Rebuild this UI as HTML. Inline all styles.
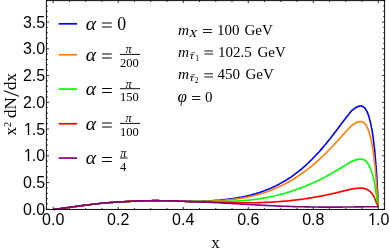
<!DOCTYPE html>
<html><head><meta charset="utf-8"><title>plot</title>
<style>
html,body{margin:0;padding:0;background:#fff;}
body{width:390px;height:252px;overflow:hidden;}
svg{display:block;will-change:transform;}
text{fill:#000;}
.s{font-family:"Liberation Sans",sans-serif;font-size:16px;}
.r{font-family:"Liberation Serif",serif;}
.ri{font-family:"Liberation Serif",serif;font-style:italic;}
</style></head><body>
<svg width="390" height="252" viewBox="0 0 390 252">
<rect width="390" height="252" fill="#fff"/>
<path d="M53.5,209.5 L55.0,209.3 L56.4,209.1 L57.8,208.9 L59.3,208.7 L60.7,208.5 L62.1,208.3 L63.6,208.1 L65.0,207.9 L66.4,207.7 L67.9,207.5 L69.3,207.3 L70.8,207.1 L72.2,206.9 L73.6,206.7 L75.1,206.5 L76.5,206.4 L77.9,206.2 L79.4,206.0 L80.8,205.8 L82.2,205.6 L83.7,205.4 L85.1,205.2 L86.6,205.0 L88.0,204.9 L89.4,204.7 L90.9,204.5 L92.3,204.3 L93.7,204.2 L95.2,204.0 L96.6,203.8 L98.0,203.7 L99.5,203.5 L100.9,203.3 L102.3,203.2 L103.8,203.1 L105.2,202.9 L106.7,202.8 L108.1,202.7 L109.5,202.6 L111.0,202.5 L112.4,202.4 L113.8,202.3 L115.3,202.2 L116.7,202.1 L118.1,202.0 L119.6,201.9 L121.0,201.8 L122.5,201.7 L123.9,201.7 L125.3,201.6 L126.8,201.5 L128.2,201.4 L129.6,201.4 L131.1,201.3 L132.5,201.2 L133.9,201.1 L135.4,201.1 L136.8,201.0 L138.2,201.0 L139.7,200.9 L141.1,200.9 L142.6,200.8 L144.0,200.8 L145.4,200.8 L146.9,200.7 L148.3,200.7 L149.7,200.7 L151.2,200.7 L152.6,200.6 L154.0,200.6 L155.5,200.6 L156.9,200.6 L158.4,200.6 L159.8,200.7 L161.2,200.7 L162.7,200.7 L164.1,200.7 L165.5,200.7 L167.0,200.8 L168.4,200.8 L169.8,200.8 L171.3,200.9 L172.7,200.9 L174.1,201.0 L175.6,201.0 L177.0,201.1 L178.5,201.1 L179.9,201.2 L181.3,201.2 L182.8,201.3 L184.2,201.3 L185.6,201.4 L187.1,201.4 L188.5,201.4 L189.9,201.4 L191.4,201.4 L192.8,201.4 L194.3,201.4 L195.7,201.4 L197.1,201.3 L198.6,201.3 L200.0,201.2 L201.4,201.2 L202.9,201.1 L204.3,201.1 L205.7,201.0 L207.2,200.9 L208.6,200.8 L210.0,200.8 L211.5,200.7 L212.9,200.6 L214.4,200.5 L215.8,200.4 L217.2,200.3 L218.7,200.2 L220.1,200.1 L221.5,199.9 L223.0,199.8 L224.4,199.6 L225.8,199.5 L227.3,199.3 L228.7,199.1 L230.2,198.9 L231.6,198.7 L233.0,198.5 L234.5,198.3 L235.9,198.1 L237.3,197.9 L238.8,197.6 L240.2,197.3 L241.6,197.1 L243.1,196.8 L244.5,196.5 L245.9,196.2 L247.4,195.9 L248.8,195.5 L250.3,195.2 L251.7,194.8 L253.1,194.4 L254.6,194.0 L256.0,193.6 L257.4,193.1 L258.9,192.7 L260.3,192.2 L261.7,191.7 L263.2,191.2 L264.6,190.7 L266.1,190.1 L267.5,189.6 L268.9,189.0 L270.4,188.4 L271.8,187.7 L273.2,187.1 L274.7,186.4 L276.1,185.7 L277.5,185.0 L279.0,184.2 L280.4,183.4 L281.8,182.6 L283.3,181.8 L284.7,181.0 L286.2,180.1 L287.6,179.2 L289.0,178.3 L290.5,177.3 L291.9,176.3 L293.3,175.3 L294.8,174.2 L296.2,173.2 L297.6,172.1 L299.1,170.9 L300.5,169.8 L302.0,168.6 L303.4,167.3 L304.8,166.1 L306.3,164.8 L307.7,163.5 L309.1,162.1 L310.6,160.7 L312.0,159.3 L313.4,157.8 L314.9,156.3 L316.3,154.8 L317.7,153.3 L319.2,151.7 L320.6,150.1 L322.1,148.4 L323.5,146.7 L324.9,145.0 L326.4,143.3 L327.8,141.5 L329.2,139.7 L330.7,137.9 L332.1,136.1 L333.5,134.2 L335.0,132.3 L336.4,130.4 L337.9,128.5 L339.3,126.6 L339.4,126.5 L339.5,126.4 L339.6,126.2 L339.7,126.1 L339.8,126.0 L339.9,125.8 L340.0,125.7 L340.1,125.6 L340.2,125.5 L340.3,125.3 L340.4,125.2 L340.5,125.1 L340.6,124.9 L340.7,124.8 L340.8,124.7 L340.9,124.5 L341.0,124.4 L341.0,124.3 L341.1,124.2 L341.2,124.0 L341.3,123.9 L341.4,123.8 L341.5,123.6 L341.6,123.5 L341.7,123.4 L341.8,123.2 L341.9,123.1 L342.0,123.0 L342.1,122.8 L342.2,122.7 L342.3,122.6 L342.4,122.5 L342.5,122.3 L342.6,122.2 L342.7,122.1 L342.8,121.9 L342.9,121.8 L343.0,121.7 L343.1,121.5 L343.2,121.4 L343.3,121.3 L343.4,121.2 L343.5,121.0 L343.6,120.9 L343.7,120.8 L343.8,120.6 L343.9,120.5 L344.0,120.4 L344.1,120.3 L344.2,120.1 L344.3,120.0 L344.4,119.9 L344.5,119.7 L344.6,119.6 L344.7,119.5 L344.8,119.4 L344.9,119.2 L345.0,119.1 L345.1,119.0 L345.2,118.8 L345.3,118.7 L345.4,118.6 L345.4,118.5 L345.5,118.3 L345.6,118.2 L345.7,118.1 L345.8,118.0 L345.9,117.8 L346.0,117.7 L346.1,117.6 L346.2,117.4 L346.3,117.3 L346.4,117.2 L346.5,117.1 L346.6,116.9 L346.7,116.8 L346.8,116.7 L346.9,116.6 L347.0,116.4 L347.1,116.3 L347.2,116.2 L347.3,116.1 L347.4,115.9 L347.5,115.8 L347.6,115.7 L347.7,115.6 L347.8,115.4 L347.9,115.3 L348.0,115.2 L348.1,115.1 L348.2,115.0 L348.3,114.8 L348.4,114.7 L348.5,114.6 L348.6,114.5 L348.7,114.3 L348.8,114.2 L348.9,114.1 L349.0,114.0 L349.1,113.9 L349.2,113.7 L349.3,113.6 L349.4,113.5 L349.5,113.4 L349.6,113.3 L349.7,113.1 L349.7,113.0 L349.8,112.9 L349.9,112.8 L350.0,112.7 L350.1,112.6 L350.2,112.4 L350.3,112.3 L350.4,112.2 L350.5,112.1 L350.6,112.0 L350.7,111.9 L350.8,111.7 L350.9,111.6 L351.0,111.5 L351.1,111.4 L351.2,111.3 L351.3,111.2 L351.4,111.1 L351.5,110.9 L351.6,110.8 L351.7,110.7 L351.8,110.6 L351.9,110.5 L352.0,110.4 L352.1,110.4 L352.2,110.3 L352.3,110.2 L352.4,110.1 L352.5,110.0 L352.6,109.9 L352.7,109.9 L352.8,109.8 L352.9,109.7 L353.0,109.6 L353.1,109.5 L353.2,109.5 L353.3,109.4 L353.4,109.3 L353.5,109.2 L353.6,109.2 L353.7,109.1 L353.8,109.0 L353.9,108.9 L354.0,108.9 L354.1,108.8 L354.1,108.7 L354.2,108.7 L354.3,108.6 L354.4,108.5 L354.5,108.4 L354.6,108.4 L354.7,108.3 L354.8,108.2 L354.9,108.2 L355.0,108.1 L355.1,108.0 L355.2,108.0 L355.3,107.9 L355.4,107.9 L355.5,107.8 L355.6,107.7 L355.7,107.7 L355.8,107.6 L355.9,107.6 L356.0,107.5 L356.1,107.4 L356.2,107.4 L356.3,107.3 L356.4,107.3 L356.5,107.2 L356.6,107.2 L356.7,107.1 L356.8,107.1 L356.9,107.0 L357.0,107.0 L357.1,106.9 L357.2,106.9 L357.3,106.8 L357.4,106.8 L357.5,106.7 L357.6,106.7 L357.7,106.7 L357.8,106.6 L357.9,106.6 L358.0,106.5 L358.1,106.5 L358.2,106.5 L358.3,106.4 L358.4,106.4 L358.5,106.4 L358.5,106.3 L358.6,106.3 L358.7,106.3 L358.8,106.3 L358.9,106.2 L359.0,106.2 L359.1,106.2 L359.2,106.2 L359.3,106.1 L359.4,106.1 L359.5,106.1 L359.6,106.1 L359.7,106.1 L359.8,106.0 L359.9,106.0 L360.0,106.0 L360.1,106.0 L360.2,106.0 L360.3,106.0 L360.4,106.0 L360.5,106.0 L360.6,106.0 L360.7,106.0 L360.8,106.0 L360.9,106.0 L361.0,106.0 L361.1,106.0 L361.1,106.0 L361.2,106.0 L361.3,106.0 L361.4,106.0 L361.5,106.0 L361.6,106.1 L361.7,106.1 L361.8,106.1 L361.8,106.1 L361.9,106.1 L362.0,106.2 L362.1,106.2 L362.2,106.2 L362.3,106.3 L362.4,106.3 L362.5,106.3 L362.6,106.4 L362.6,106.4 L362.7,106.5 L362.8,106.5 L362.9,106.5 L363.0,106.6 L363.1,106.7 L363.2,106.7 L363.3,106.8 L363.4,106.8 L363.4,106.9 L363.5,106.9 L363.6,107.0 L363.7,107.1 L363.8,107.2 L363.9,107.2 L364.0,107.3 L364.1,107.4 L364.2,107.5 L364.3,107.6 L364.3,107.6 L364.4,107.7 L364.5,107.8 L364.6,107.9 L364.7,108.0 L364.8,108.1 L364.9,108.2 L365.0,108.4 L365.1,108.5 L365.2,108.6 L365.3,108.7 L365.4,108.8 L365.4,109.0 L365.5,109.1 L365.6,109.2 L365.7,109.4 L365.8,109.5 L365.9,109.7 L366.0,109.8 L366.1,110.0 L366.2,110.1 L366.3,110.3 L366.4,110.4 L366.5,110.6 L366.6,110.8 L366.7,111.0 L366.7,111.2 L366.8,111.3 L366.9,111.5 L367.0,111.7 L367.1,111.9 L367.2,112.1 L367.3,112.4 L367.4,112.6 L367.5,112.8 L367.6,113.0 L367.7,113.2 L367.8,113.5 L367.9,113.7 L368.0,114.0 L368.1,114.2 L368.2,114.5 L368.3,114.8 L368.4,115.0 L368.5,115.3 L368.6,115.6 L368.7,115.9 L368.8,116.2 L368.9,116.5 L369.0,116.8 L369.0,117.1 L369.1,117.4 L369.2,117.8 L369.3,118.1 L369.4,118.5 L369.5,118.8 L369.6,119.2 L369.7,119.5 L369.8,119.9 L369.9,120.3 L370.0,120.7 L370.1,121.1 L370.2,121.5 L370.3,121.9 L370.4,122.3 L370.5,122.8 L370.6,123.2 L370.7,123.7 L370.8,124.1 L370.9,124.6 L371.0,125.1 L371.1,125.6 L371.2,126.1 L371.3,126.6 L371.4,127.2 L371.5,127.7 L371.7,128.2 L371.8,128.8 L371.9,129.4 L372.0,130.0 L372.1,130.6 L372.2,131.2 L372.3,131.8 L372.4,132.5 L372.5,133.1 L372.6,133.8 L372.7,134.5 L372.8,135.2 L372.9,135.9 L373.0,136.6 L373.1,137.3 L373.2,138.1 L373.3,138.9 L373.4,139.7 L373.5,140.5 L373.6,141.3 L373.7,142.2 L373.8,143.0 L373.9,143.9 L374.0,144.8 L374.1,145.8 L374.2,146.7 L374.4,147.7 L374.5,148.7 L374.6,149.7 L374.7,150.7 L374.8,151.8 L374.9,152.9 L375.0,154.0 L375.1,155.1 L375.2,156.3 L375.3,157.5 L375.4,158.7 L375.5,160.0 L375.6,161.2 L375.7,162.6 L375.8,163.9 L375.9,165.3 L376.0,166.7 L376.2,168.1 L376.3,169.6 L376.4,171.2 L376.5,172.7 L376.6,174.3 L376.7,176.0 L376.8,177.6 L376.9,179.4 L377.0,181.1 L377.1,183.0 L377.2,184.8 L377.3,186.8 L377.4,188.7 L377.5,190.8 L377.7,192.9 L377.8,195.0 L377.9,197.2 L378.0,199.5 L378.1,201.8 L378.2,204.2 L378.3,206.7" fill="none" stroke="#0000ff" stroke-width="1.62" stroke-linejoin="round"/>
<path d="M53.5,209.5 L55.0,209.3 L56.4,209.1 L57.8,208.9 L59.3,208.7 L60.7,208.5 L62.1,208.3 L63.6,208.1 L65.0,207.9 L66.4,207.7 L67.9,207.5 L69.3,207.3 L70.8,207.1 L72.2,206.9 L73.6,206.7 L75.1,206.5 L76.5,206.4 L77.9,206.2 L79.4,206.0 L80.8,205.8 L82.2,205.6 L83.7,205.4 L85.1,205.2 L86.6,205.0 L88.0,204.9 L89.4,204.7 L90.9,204.5 L92.3,204.3 L93.7,204.2 L95.2,204.0 L96.6,203.8 L98.0,203.7 L99.5,203.5 L100.9,203.3 L102.3,203.2 L103.8,203.1 L105.2,202.9 L106.7,202.8 L108.1,202.7 L109.5,202.6 L111.0,202.5 L112.4,202.4 L113.8,202.3 L115.3,202.2 L116.7,202.1 L118.1,202.0 L119.6,201.9 L121.0,201.8 L122.5,201.7 L123.9,201.7 L125.3,201.6 L126.8,201.5 L128.2,201.4 L129.6,201.4 L131.1,201.3 L132.5,201.2 L133.9,201.1 L135.4,201.1 L136.8,201.0 L138.2,201.0 L139.7,200.9 L141.1,200.9 L142.6,200.8 L144.0,200.8 L145.4,200.8 L146.9,200.7 L148.3,200.7 L149.7,200.7 L151.2,200.7 L152.6,200.6 L154.0,200.6 L155.5,200.6 L156.9,200.6 L158.4,200.6 L159.8,200.7 L161.2,200.7 L162.7,200.7 L164.1,200.7 L165.5,200.7 L167.0,200.8 L168.4,200.8 L169.8,200.8 L171.3,200.9 L172.7,200.9 L174.1,201.0 L175.6,201.0 L177.0,201.1 L178.5,201.1 L179.9,201.2 L181.3,201.2 L182.8,201.3 L184.2,201.3 L185.6,201.4 L187.1,201.4 L188.5,201.5 L189.9,201.5 L191.4,201.5 L192.8,201.4 L194.3,201.4 L195.7,201.4 L197.1,201.4 L198.6,201.4 L200.0,201.3 L201.4,201.3 L202.9,201.3 L204.3,201.2 L205.7,201.2 L207.2,201.1 L208.6,201.1 L210.0,201.0 L211.5,201.0 L212.9,200.9 L214.4,200.8 L215.8,200.7 L217.2,200.7 L218.7,200.6 L220.1,200.5 L221.5,200.4 L223.0,200.3 L224.4,200.2 L225.8,200.0 L227.3,199.9 L228.7,199.8 L230.2,199.6 L231.6,199.5 L233.0,199.3 L234.5,199.1 L235.9,199.0 L237.3,198.8 L238.8,198.6 L240.2,198.4 L241.6,198.1 L243.1,197.9 L244.5,197.6 L245.9,197.4 L247.4,197.1 L248.8,196.8 L250.3,196.5 L251.7,196.2 L253.1,195.8 L254.6,195.5 L256.0,195.1 L257.4,194.7 L258.9,194.3 L260.3,193.9 L261.7,193.4 L263.2,193.0 L264.6,192.5 L266.1,192.0 L267.5,191.5 L268.9,191.0 L270.4,190.5 L271.8,189.9 L273.2,189.3 L274.7,188.7 L276.1,188.1 L277.5,187.5 L279.0,186.8 L280.4,186.1 L281.8,185.5 L283.3,184.7 L284.7,184.0 L286.2,183.2 L287.6,182.5 L289.0,181.7 L290.5,180.8 L291.9,180.0 L293.3,179.1 L294.8,178.2 L296.2,177.3 L297.6,176.4 L299.1,175.4 L300.5,174.5 L302.0,173.5 L303.4,172.4 L304.8,171.4 L306.3,170.3 L307.7,169.2 L309.1,168.1 L310.6,166.9 L312.0,165.8 L313.4,164.6 L314.9,163.3 L316.3,162.1 L317.7,160.8 L319.2,159.5 L320.6,158.2 L322.1,156.8 L323.5,155.5 L324.9,154.1 L326.4,152.6 L327.8,151.2 L329.2,149.7 L330.7,148.2 L332.1,146.7 L333.5,145.2 L335.0,143.6 L336.4,142.0 L337.9,140.5 L339.3,138.9 L339.4,138.8 L339.5,138.7 L339.6,138.6 L339.7,138.4 L339.8,138.3 L339.9,138.2 L340.0,138.1 L340.1,138.0 L340.2,137.9 L340.3,137.8 L340.4,137.7 L340.5,137.6 L340.6,137.5 L340.7,137.4 L340.8,137.3 L340.9,137.1 L341.0,137.0 L341.0,136.9 L341.1,136.8 L341.2,136.7 L341.3,136.6 L341.4,136.5 L341.5,136.4 L341.6,136.3 L341.7,136.2 L341.8,136.1 L341.9,135.9 L342.0,135.8 L342.1,135.7 L342.2,135.6 L342.3,135.5 L342.4,135.4 L342.5,135.3 L342.6,135.2 L342.7,135.1 L342.8,135.0 L342.9,134.9 L343.0,134.8 L343.1,134.6 L343.2,134.5 L343.3,134.4 L343.4,134.3 L343.5,134.2 L343.6,134.1 L343.7,134.0 L343.8,133.9 L343.9,133.8 L344.0,133.7 L344.1,133.6 L344.2,133.5 L344.3,133.3 L344.4,133.2 L344.5,133.1 L344.6,133.0 L344.7,132.9 L344.8,132.8 L344.9,132.7 L345.0,132.6 L345.1,132.5 L345.2,132.4 L345.3,132.3 L345.4,132.2 L345.4,132.1 L345.5,132.0 L345.6,131.8 L345.7,131.7 L345.8,131.6 L345.9,131.5 L346.0,131.4 L346.1,131.3 L346.2,131.2 L346.3,131.1 L346.4,131.0 L346.5,130.9 L346.6,130.8 L346.7,130.7 L346.8,130.6 L346.9,130.5 L347.0,130.4 L347.1,130.3 L347.2,130.2 L347.3,130.1 L347.4,129.9 L347.5,129.8 L347.6,129.7 L347.7,129.6 L347.8,129.5 L347.9,129.4 L348.0,129.3 L348.1,129.2 L348.2,129.1 L348.3,129.0 L348.4,128.9 L348.5,128.8 L348.6,128.7 L348.7,128.6 L348.8,128.5 L348.9,128.4 L349.0,128.3 L349.1,128.2 L349.2,128.1 L349.3,128.0 L349.4,127.9 L349.5,127.8 L349.6,127.7 L349.7,127.6 L349.7,127.5 L349.8,127.4 L349.9,127.3 L350.0,127.2 L350.1,127.1 L350.2,127.0 L350.3,126.9 L350.4,126.8 L350.5,126.7 L350.6,126.6 L350.7,126.5 L350.8,126.4 L350.9,126.3 L351.0,126.2 L351.1,126.1 L351.2,126.0 L351.3,125.9 L351.4,125.8 L351.5,125.7 L351.6,125.6 L351.7,125.5 L351.8,125.4 L351.9,125.4 L352.0,125.3 L352.1,125.2 L352.2,125.2 L352.3,125.1 L352.4,125.0 L352.5,125.0 L352.6,124.9 L352.7,124.8 L352.8,124.8 L352.9,124.7 L353.0,124.6 L353.1,124.6 L353.2,124.5 L353.3,124.4 L353.4,124.4 L353.5,124.3 L353.6,124.2 L353.7,124.2 L353.8,124.1 L353.9,124.0 L354.0,124.0 L354.1,123.9 L354.1,123.9 L354.2,123.8 L354.3,123.7 L354.4,123.7 L354.5,123.6 L354.6,123.6 L354.7,123.5 L354.8,123.4 L354.9,123.4 L355.0,123.3 L355.1,123.3 L355.2,123.2 L355.3,123.2 L355.4,123.1 L355.5,123.1 L355.6,123.0 L355.7,123.0 L355.8,122.9 L355.9,122.9 L356.0,122.8 L356.1,122.8 L356.2,122.7 L356.3,122.7 L356.4,122.6 L356.5,122.6 L356.6,122.5 L356.7,122.5 L356.8,122.5 L356.9,122.4 L357.0,122.4 L357.1,122.3 L357.2,122.3 L357.3,122.2 L357.4,122.2 L357.5,122.2 L357.6,122.1 L357.7,122.1 L357.8,122.1 L357.9,122.0 L358.0,122.0 L358.1,122.0 L358.2,121.9 L358.3,121.9 L358.4,121.9 L358.5,121.9 L358.5,121.8 L358.6,121.8 L358.7,121.8 L358.8,121.8 L358.9,121.7 L359.0,121.7 L359.1,121.7 L359.2,121.7 L359.3,121.6 L359.4,121.6 L359.5,121.6 L359.6,121.6 L359.7,121.6 L359.8,121.6 L359.9,121.6 L360.0,121.6 L360.1,121.5 L360.2,121.5 L360.3,121.5 L360.4,121.5 L360.5,121.5 L360.6,121.5 L360.7,121.5 L360.8,121.5 L360.9,121.5 L361.0,121.5 L361.1,121.5 L361.1,121.5 L361.2,121.5 L361.3,121.6 L361.4,121.6 L361.5,121.6 L361.6,121.6 L361.7,121.6 L361.7,121.6 L361.8,121.6 L361.9,121.7 L362.0,121.7 L362.1,121.7 L362.2,121.7 L362.3,121.8 L362.3,121.8 L362.4,121.8 L362.5,121.8 L362.6,121.9 L362.7,121.9 L362.8,122.0 L362.9,122.0 L362.9,122.0 L363.0,122.1 L363.1,122.1 L363.2,122.2 L363.3,122.2 L363.4,122.3 L363.4,122.3 L363.5,122.4 L363.6,122.4 L363.7,122.5 L363.8,122.6 L363.9,122.6 L364.0,122.7 L364.0,122.8 L364.1,122.8 L364.2,122.9 L364.3,123.0 L364.4,123.1 L364.5,123.2 L364.5,123.2 L364.6,123.3 L364.7,123.4 L364.8,123.5 L364.9,123.6 L365.0,123.7 L365.1,123.8 L365.1,123.9 L365.2,124.0 L365.3,124.1 L365.4,124.3 L365.5,124.4 L365.6,124.5 L365.7,124.6 L365.7,124.7 L365.8,124.9 L365.9,125.0 L366.0,125.1 L366.1,125.3 L366.2,125.4 L366.3,125.6 L366.3,125.7 L366.4,125.9 L366.5,126.0 L366.6,126.2 L366.7,126.4 L366.8,126.5 L366.9,126.7 L367.0,126.9 L367.1,127.1 L367.1,127.3 L367.2,127.5 L367.3,127.7 L367.4,127.9 L367.5,128.1 L367.6,128.3 L367.7,128.5 L367.8,128.7 L367.9,128.9 L368.0,129.2 L368.1,129.4 L368.1,129.6 L368.2,129.9 L368.3,130.1 L368.4,130.4 L368.5,130.7 L368.6,130.9 L368.7,131.2 L368.8,131.5 L368.9,131.8 L369.0,132.1 L369.1,132.4 L369.2,132.7 L369.3,133.0 L369.4,133.3 L369.5,133.6 L369.6,133.9 L369.7,134.3 L369.8,134.6 L369.9,135.0 L370.0,135.3 L370.1,135.7 L370.2,136.1 L370.3,136.5 L370.4,136.9 L370.5,137.3 L370.6,137.7 L370.7,138.1 L370.8,138.5 L370.9,139.0 L371.0,139.4 L371.1,139.9 L371.2,140.3 L371.3,140.8 L371.4,141.3 L371.5,141.8 L371.6,142.3 L371.7,142.8 L371.8,143.4 L371.9,143.9 L372.0,144.4 L372.1,145.0 L372.2,145.6 L372.3,146.2 L372.4,146.8 L372.5,147.4 L372.6,148.0 L372.7,148.7 L372.9,149.3 L373.0,150.0 L373.1,150.7 L373.2,151.4 L373.3,152.1 L373.4,152.8 L373.5,153.6 L373.6,154.4 L373.7,155.1 L373.8,155.9 L373.9,156.8 L374.0,157.6 L374.1,158.5 L374.2,159.3 L374.3,160.2 L374.4,161.2 L374.5,162.1 L374.6,163.1 L374.7,164.1 L374.9,165.1 L375.0,166.1 L375.1,167.2 L375.2,168.2 L375.3,169.4 L375.4,170.5 L375.5,171.7 L375.6,172.9 L375.7,174.1 L375.8,175.3 L375.9,176.6 L376.0,177.9 L376.1,179.3 L376.2,180.7 L376.3,182.1 L376.5,183.6 L376.6,185.1 L376.7,186.6 L376.8,188.2 L376.9,189.8 L377.1,191.5 L377.2,193.2 L377.4,195.0 L377.6,196.8 L377.7,198.7 L377.9,200.6 L378.1,202.6 L378.2,204.6 L378.3,206.7" fill="none" stroke="#ff7f00" stroke-width="1.62" stroke-linejoin="round"/>
<path d="M53.5,209.5 L55.0,209.3 L56.4,209.1 L57.8,208.9 L59.3,208.7 L60.7,208.5 L62.1,208.3 L63.6,208.1 L65.0,207.9 L66.4,207.7 L67.9,207.5 L69.3,207.3 L70.8,207.1 L72.2,206.9 L73.6,206.7 L75.1,206.5 L76.5,206.4 L77.9,206.2 L79.4,206.0 L80.8,205.8 L82.2,205.6 L83.7,205.4 L85.1,205.2 L86.6,205.0 L88.0,204.9 L89.4,204.7 L90.9,204.5 L92.3,204.3 L93.7,204.2 L95.2,204.0 L96.6,203.8 L98.0,203.7 L99.5,203.5 L100.9,203.3 L102.3,203.2 L103.8,203.1 L105.2,202.9 L106.7,202.8 L108.1,202.7 L109.5,202.6 L111.0,202.5 L112.4,202.4 L113.8,202.3 L115.3,202.2 L116.7,202.1 L118.1,202.0 L119.6,201.9 L121.0,201.8 L122.5,201.7 L123.9,201.7 L125.3,201.6 L126.8,201.5 L128.2,201.4 L129.6,201.4 L131.1,201.3 L132.5,201.2 L133.9,201.1 L135.4,201.1 L136.8,201.0 L138.2,201.0 L139.7,200.9 L141.1,200.9 L142.6,200.8 L144.0,200.8 L145.4,200.8 L146.9,200.7 L148.3,200.7 L149.7,200.7 L151.2,200.7 L152.6,200.6 L154.0,200.6 L155.5,200.6 L156.9,200.6 L158.4,200.6 L159.8,200.7 L161.2,200.7 L162.7,200.7 L164.1,200.7 L165.5,200.7 L167.0,200.8 L168.4,200.8 L169.8,200.8 L171.3,200.9 L172.7,200.9 L174.1,201.0 L175.6,201.0 L177.0,201.1 L178.5,201.1 L179.9,201.2 L181.3,201.2 L182.8,201.3 L184.2,201.3 L185.6,201.4 L187.1,201.5 L188.5,201.5 L189.9,201.5 L191.4,201.5 L192.8,201.6 L194.3,201.6 L195.7,201.6 L197.1,201.6 L198.6,201.6 L200.0,201.6 L201.4,201.6 L202.9,201.6 L204.3,201.6 L205.7,201.6 L207.2,201.6 L208.6,201.6 L210.0,201.6 L211.5,201.6 L212.9,201.6 L214.4,201.6 L215.8,201.6 L217.2,201.6 L218.7,201.6 L220.1,201.5 L221.5,201.5 L223.0,201.5 L224.4,201.5 L225.8,201.4 L227.3,201.4 L228.7,201.4 L230.2,201.3 L231.6,201.3 L233.0,201.2 L234.5,201.1 L235.9,201.1 L237.3,201.0 L238.8,200.9 L240.2,200.8 L241.6,200.7 L243.1,200.6 L244.5,200.5 L245.9,200.4 L247.4,200.3 L248.8,200.1 L250.3,200.0 L251.7,199.8 L253.1,199.6 L254.6,199.4 L256.0,199.3 L257.4,199.1 L258.9,198.8 L260.3,198.6 L261.7,198.4 L263.2,198.1 L264.6,197.9 L266.1,197.6 L267.5,197.4 L268.9,197.1 L270.4,196.8 L271.8,196.5 L273.2,196.2 L274.7,195.8 L276.1,195.5 L277.5,195.2 L279.0,194.8 L280.4,194.4 L281.8,194.1 L283.3,193.7 L284.7,193.3 L286.2,192.8 L287.6,192.4 L289.0,192.0 L290.5,191.5 L291.9,191.1 L293.3,190.6 L294.8,190.1 L296.2,189.6 L297.6,189.1 L299.1,188.6 L300.5,188.0 L302.0,187.5 L303.4,186.9 L304.8,186.4 L306.3,185.8 L307.7,185.2 L309.1,184.6 L310.6,184.0 L312.0,183.3 L313.4,182.7 L314.9,182.0 L316.3,181.4 L317.7,180.7 L319.2,180.0 L320.6,179.3 L322.1,178.6 L323.5,177.8 L324.9,177.1 L326.4,176.3 L327.8,175.5 L329.2,174.7 L330.7,173.9 L332.1,173.1 L333.5,172.2 L335.0,171.4 L336.4,170.5 L337.9,169.7 L339.3,168.8 L339.4,168.8 L339.5,168.7 L339.6,168.6 L339.7,168.6 L339.8,168.5 L339.9,168.5 L340.0,168.4 L340.1,168.3 L340.2,168.3 L340.3,168.2 L340.4,168.2 L340.5,168.1 L340.6,168.0 L340.7,168.0 L340.8,167.9 L340.9,167.9 L341.0,167.8 L341.0,167.7 L341.1,167.7 L341.2,167.6 L341.3,167.6 L341.4,167.5 L341.5,167.4 L341.6,167.4 L341.7,167.3 L341.8,167.3 L341.9,167.2 L342.0,167.1 L342.1,167.1 L342.2,167.0 L342.3,167.0 L342.4,166.9 L342.5,166.8 L342.6,166.8 L342.7,166.7 L342.8,166.7 L342.9,166.6 L343.0,166.5 L343.1,166.5 L343.2,166.4 L343.3,166.4 L343.4,166.3 L343.5,166.2 L343.6,166.2 L343.7,166.1 L343.8,166.1 L343.9,166.0 L344.0,165.9 L344.1,165.9 L344.2,165.8 L344.3,165.8 L344.4,165.7 L344.5,165.6 L344.6,165.6 L344.7,165.5 L344.8,165.5 L344.9,165.4 L345.0,165.3 L345.1,165.3 L345.2,165.2 L345.3,165.2 L345.4,165.1 L345.4,165.0 L345.5,165.0 L345.6,164.9 L345.7,164.9 L345.8,164.8 L345.9,164.7 L346.0,164.7 L346.1,164.6 L346.2,164.6 L346.3,164.5 L346.4,164.5 L346.5,164.4 L346.6,164.3 L346.7,164.3 L346.8,164.2 L346.9,164.2 L347.0,164.1 L347.1,164.0 L347.2,164.0 L347.3,163.9 L347.4,163.9 L347.5,163.8 L347.6,163.8 L347.7,163.7 L347.8,163.6 L347.9,163.6 L348.0,163.5 L348.1,163.5 L348.2,163.4 L348.3,163.3 L348.4,163.3 L348.5,163.2 L348.6,163.2 L348.7,163.1 L348.8,163.1 L348.9,163.0 L349.0,162.9 L349.1,162.9 L349.2,162.8 L349.3,162.8 L349.4,162.7 L349.5,162.7 L349.6,162.6 L349.7,162.5 L349.7,162.5 L349.8,162.4 L349.9,162.4 L350.0,162.3 L350.1,162.3 L350.2,162.2 L350.3,162.2 L350.4,162.1 L350.5,162.0 L350.6,162.0 L350.7,161.9 L350.8,161.9 L350.9,161.8 L351.0,161.8 L351.1,161.7 L351.2,161.7 L351.3,161.6 L351.4,161.6 L351.5,161.5 L351.6,161.5 L351.7,161.4 L351.8,161.3 L351.9,161.3 L352.0,161.3 L352.1,161.2 L352.2,161.2 L352.3,161.1 L352.4,161.1 L352.5,161.1 L352.6,161.0 L352.7,161.0 L352.8,161.0 L352.9,160.9 L353.0,160.9 L353.1,160.8 L353.2,160.8 L353.3,160.8 L353.4,160.7 L353.5,160.7 L353.6,160.7 L353.7,160.6 L353.8,160.6 L353.9,160.5 L354.0,160.5 L354.1,160.5 L354.1,160.4 L354.2,160.4 L354.3,160.4 L354.4,160.3 L354.5,160.3 L354.6,160.3 L354.7,160.2 L354.8,160.2 L354.9,160.2 L355.0,160.1 L355.1,160.1 L355.2,160.1 L355.3,160.1 L355.4,160.0 L355.5,160.0 L355.6,160.0 L355.7,159.9 L355.8,159.9 L355.9,159.9 L356.0,159.9 L356.1,159.8 L356.2,159.8 L356.3,159.8 L356.4,159.7 L356.5,159.7 L356.6,159.7 L356.7,159.7 L356.8,159.6 L356.9,159.6 L357.0,159.6 L357.1,159.6 L357.2,159.6 L357.3,159.5 L357.4,159.5 L357.5,159.5 L357.6,159.5 L357.7,159.4 L357.8,159.4 L357.9,159.4 L358.0,159.4 L358.1,159.4 L358.2,159.4 L358.3,159.3 L358.4,159.3 L358.5,159.3 L358.5,159.3 L358.6,159.3 L358.7,159.3 L358.8,159.2 L358.9,159.2 L359.0,159.2 L359.1,159.2 L359.2,159.2 L359.3,159.2 L359.4,159.2 L359.5,159.2 L359.6,159.2 L359.7,159.1 L359.8,159.1 L359.9,159.1 L360.0,159.1 L360.1,159.1 L360.2,159.1 L360.3,159.1 L360.4,159.1 L360.5,159.1 L360.6,159.1 L360.7,159.1 L360.8,159.1 L360.9,159.1 L361.0,159.1 L361.1,159.1 L361.1,159.1 L361.2,159.1 L361.3,159.1 L361.4,159.1 L361.5,159.1 L361.6,159.1 L361.7,159.1 L361.7,159.2 L361.8,159.2 L361.9,159.2 L362.0,159.2 L362.1,159.2 L362.2,159.2 L362.2,159.2 L362.3,159.2 L362.4,159.3 L362.5,159.3 L362.6,159.3 L362.7,159.3 L362.7,159.3 L362.8,159.4 L362.9,159.4 L363.0,159.4 L363.1,159.4 L363.1,159.5 L363.2,159.5 L363.3,159.5 L363.4,159.5 L363.5,159.6 L363.6,159.6 L363.6,159.6 L363.7,159.7 L363.8,159.7 L363.9,159.7 L364.0,159.8 L364.0,159.8 L364.1,159.9 L364.2,159.9 L364.3,160.0 L364.4,160.0 L364.4,160.1 L364.5,160.1 L364.6,160.1 L364.7,160.2 L364.8,160.3 L364.8,160.3 L364.9,160.4 L365.0,160.4 L365.1,160.5 L365.2,160.5 L365.2,160.6 L365.3,160.7 L365.4,160.7 L365.5,160.8 L365.6,160.9 L365.6,161.0 L365.7,161.0 L365.8,161.1 L365.9,161.2 L366.0,161.3 L366.1,161.3 L366.1,161.4 L366.2,161.5 L366.3,161.6 L366.4,161.7 L366.5,161.8 L366.6,161.9 L366.6,162.0 L366.7,162.1 L366.8,162.2 L366.9,162.3 L367.0,162.4 L367.1,162.5 L367.2,162.6 L367.3,162.7 L367.3,162.8 L367.4,163.0 L367.5,163.1 L367.6,163.2 L367.7,163.3 L367.8,163.5 L367.9,163.6 L368.0,163.7 L368.1,163.9 L368.1,164.0 L368.2,164.2 L368.3,164.3 L368.4,164.5 L368.5,164.6 L368.6,164.8 L368.7,165.0 L368.8,165.1 L368.9,165.3 L369.0,165.5 L369.1,165.6 L369.2,165.8 L369.3,166.0 L369.4,166.2 L369.5,166.4 L369.6,166.6 L369.7,166.8 L369.8,167.0 L369.9,167.2 L370.0,167.4 L370.1,167.6 L370.2,167.9 L370.3,168.1 L370.4,168.3 L370.5,168.6 L370.6,168.8 L370.7,169.1 L370.8,169.3 L370.9,169.6 L371.0,169.8 L371.1,170.1 L371.2,170.4 L371.3,170.7 L371.4,171.0 L371.5,171.3 L371.6,171.6 L371.7,171.9 L371.8,172.2 L371.9,172.5 L372.0,172.8 L372.1,173.2 L372.2,173.5 L372.3,173.9 L372.4,174.2 L372.6,174.6 L372.7,175.0 L372.8,175.4 L372.9,175.8 L373.0,176.2 L373.1,176.6 L373.2,177.0 L373.3,177.4 L373.4,177.9 L373.5,178.3 L373.6,178.8 L373.7,179.2 L373.8,179.7 L373.9,180.2 L374.0,180.7 L374.1,181.2 L374.2,181.7 L374.3,182.3 L374.4,182.8 L374.6,183.4 L374.7,184.0 L374.8,184.6 L374.9,185.2 L375.0,185.8 L375.1,186.4 L375.2,187.1 L375.3,187.8 L375.4,188.4 L375.5,189.1 L375.6,189.9 L375.7,190.6 L375.8,191.4 L375.9,192.1 L376.0,192.9 L376.2,193.8 L376.3,194.6 L376.4,195.5 L376.5,196.3 L376.7,197.3 L376.8,198.2 L377.0,199.2 L377.3,200.1 L377.5,201.2 L377.7,202.2 L377.9,203.3 L378.0,204.4 L378.2,205.5 L378.3,206.7" fill="none" stroke="#00ff00" stroke-width="1.62" stroke-linejoin="round"/>
<path d="M53.5,209.5 L55.0,209.3 L56.4,209.1 L57.8,208.9 L59.3,208.7 L60.7,208.5 L62.1,208.3 L63.6,208.1 L65.0,207.9 L66.4,207.7 L67.9,207.5 L69.3,207.3 L70.8,207.1 L72.2,206.9 L73.6,206.7 L75.1,206.5 L76.5,206.4 L77.9,206.2 L79.4,206.0 L80.8,205.8 L82.2,205.6 L83.7,205.4 L85.1,205.2 L86.6,205.0 L88.0,204.9 L89.4,204.7 L90.9,204.5 L92.3,204.3 L93.7,204.2 L95.2,204.0 L96.6,203.8 L98.0,203.7 L99.5,203.5 L100.9,203.3 L102.3,203.2 L103.8,203.1 L105.2,202.9 L106.7,202.8 L108.1,202.7 L109.5,202.6 L111.0,202.5 L112.4,202.4 L113.8,202.3 L115.3,202.2 L116.7,202.1 L118.1,202.0 L119.6,201.9 L121.0,201.8 L122.5,201.7 L123.9,201.7 L125.3,201.6 L126.8,201.5 L128.2,201.4 L129.6,201.4 L131.1,201.3 L132.5,201.2 L133.9,201.1 L135.4,201.1 L136.8,201.0 L138.2,201.0 L139.7,200.9 L141.1,200.9 L142.6,200.8 L144.0,200.8 L145.4,200.8 L146.9,200.7 L148.3,200.7 L149.7,200.7 L151.2,200.7 L152.6,200.6 L154.0,200.6 L155.5,200.6 L156.9,200.6 L158.4,200.6 L159.8,200.7 L161.2,200.7 L162.7,200.7 L164.1,200.7 L165.5,200.7 L167.0,200.8 L168.4,200.8 L169.8,200.8 L171.3,200.9 L172.7,200.9 L174.1,201.0 L175.6,201.0 L177.0,201.1 L178.5,201.1 L179.9,201.2 L181.3,201.2 L182.8,201.3 L184.2,201.3 L185.6,201.4 L187.1,201.5 L188.5,201.5 L189.9,201.6 L191.4,201.6 L192.8,201.6 L194.3,201.7 L195.7,201.7 L197.1,201.8 L198.6,201.8 L200.0,201.8 L201.4,201.9 L202.9,201.9 L204.3,201.9 L205.7,202.0 L207.2,202.0 L208.6,202.0 L210.0,202.1 L211.5,202.1 L212.9,202.2 L214.4,202.2 L215.8,202.2 L217.2,202.3 L218.7,202.3 L220.1,202.4 L221.5,202.4 L223.0,202.4 L224.4,202.5 L225.8,202.5 L227.3,202.5 L228.7,202.6 L230.2,202.6 L231.6,202.6 L233.0,202.6 L234.5,202.7 L235.9,202.7 L237.3,202.7 L238.8,202.7 L240.2,202.7 L241.6,202.8 L243.1,202.8 L244.5,202.8 L245.9,202.8 L247.4,202.8 L248.8,202.8 L250.3,202.8 L251.7,202.8 L253.1,202.7 L254.6,202.7 L256.0,202.7 L257.4,202.6 L258.9,202.6 L260.3,202.6 L261.7,202.5 L263.2,202.5 L264.6,202.4 L266.1,202.4 L267.5,202.3 L268.9,202.2 L270.4,202.2 L271.8,202.1 L273.2,202.0 L274.7,201.9 L276.1,201.8 L277.5,201.7 L279.0,201.6 L280.4,201.5 L281.8,201.4 L283.3,201.3 L284.7,201.1 L286.2,201.0 L287.6,200.9 L289.0,200.7 L290.5,200.6 L291.9,200.4 L293.3,200.3 L294.8,200.1 L296.2,199.9 L297.6,199.8 L299.1,199.6 L300.5,199.4 L302.0,199.2 L303.4,199.0 L304.8,198.8 L306.3,198.6 L307.7,198.4 L309.1,198.1 L310.6,197.9 L312.0,197.7 L313.4,197.4 L314.9,197.2 L316.3,196.9 L317.7,196.7 L319.2,196.4 L320.6,196.1 L322.1,195.9 L323.5,195.6 L324.9,195.3 L326.4,195.0 L327.8,194.7 L329.2,194.4 L330.7,194.0 L332.1,193.7 L333.5,193.4 L335.0,193.1 L336.4,192.7 L337.9,192.4 L339.3,192.0 L339.4,192.0 L339.5,192.0 L339.6,192.0 L339.7,191.9 L339.8,191.9 L339.9,191.9 L340.0,191.9 L340.1,191.8 L340.2,191.8 L340.3,191.8 L340.4,191.8 L340.5,191.8 L340.6,191.7 L340.7,191.7 L340.8,191.7 L340.9,191.7 L341.0,191.6 L341.0,191.6 L341.1,191.6 L341.2,191.6 L341.3,191.5 L341.4,191.5 L341.5,191.5 L341.6,191.5 L341.7,191.4 L341.8,191.4 L341.9,191.4 L342.0,191.4 L342.1,191.3 L342.2,191.3 L342.3,191.3 L342.4,191.3 L342.5,191.3 L342.6,191.2 L342.7,191.2 L342.8,191.2 L342.9,191.2 L343.0,191.1 L343.1,191.1 L343.2,191.1 L343.3,191.1 L343.4,191.0 L343.5,191.0 L343.6,191.0 L343.7,191.0 L343.8,190.9 L343.9,190.9 L344.0,190.9 L344.1,190.9 L344.2,190.8 L344.3,190.8 L344.4,190.8 L344.5,190.8 L344.6,190.8 L344.7,190.7 L344.8,190.7 L344.9,190.7 L345.0,190.7 L345.1,190.6 L345.2,190.6 L345.3,190.6 L345.4,190.6 L345.4,190.5 L345.5,190.5 L345.6,190.5 L345.7,190.5 L345.8,190.4 L345.9,190.4 L346.0,190.4 L346.1,190.4 L346.2,190.3 L346.3,190.3 L346.4,190.3 L346.5,190.3 L346.6,190.3 L346.7,190.2 L346.8,190.2 L346.9,190.2 L347.0,190.2 L347.1,190.1 L347.2,190.1 L347.3,190.1 L347.4,190.1 L347.5,190.0 L347.6,190.0 L347.7,190.0 L347.8,190.0 L347.9,189.9 L348.0,189.9 L348.1,189.9 L348.2,189.9 L348.3,189.9 L348.4,189.8 L348.5,189.8 L348.6,189.8 L348.7,189.8 L348.8,189.7 L348.9,189.7 L349.0,189.7 L349.1,189.7 L349.2,189.6 L349.3,189.6 L349.4,189.6 L349.5,189.6 L349.6,189.6 L349.7,189.5 L349.7,189.5 L349.8,189.5 L349.9,189.5 L350.0,189.4 L350.1,189.4 L350.2,189.4 L350.3,189.4 L350.4,189.4 L350.5,189.3 L350.6,189.3 L350.7,189.3 L350.8,189.3 L350.9,189.2 L351.0,189.2 L351.1,189.2 L351.2,189.2 L351.3,189.2 L351.4,189.1 L351.5,189.1 L351.6,189.1 L351.7,189.1 L351.8,189.1 L351.9,189.0 L352.0,189.0 L352.1,189.0 L352.2,189.0 L352.3,189.0 L352.4,189.0 L352.5,188.9 L352.6,188.9 L352.7,188.9 L352.8,188.9 L352.9,188.9 L353.0,188.9 L353.1,188.8 L353.2,188.8 L353.3,188.8 L353.4,188.8 L353.5,188.8 L353.6,188.8 L353.7,188.8 L353.8,188.7 L353.9,188.7 L354.0,188.7 L354.1,188.7 L354.1,188.7 L354.2,188.7 L354.3,188.7 L354.4,188.6 L354.5,188.6 L354.6,188.6 L354.7,188.6 L354.8,188.6 L354.9,188.6 L355.0,188.6 L355.1,188.5 L355.2,188.5 L355.3,188.5 L355.4,188.5 L355.5,188.5 L355.6,188.5 L355.7,188.5 L355.8,188.5 L355.9,188.5 L356.0,188.4 L356.1,188.4 L356.2,188.4 L356.3,188.4 L356.4,188.4 L356.5,188.4 L356.6,188.4 L356.7,188.4 L356.8,188.4 L356.9,188.3 L357.0,188.3 L357.1,188.3 L357.2,188.3 L357.3,188.3 L357.4,188.3 L357.5,188.3 L357.6,188.3 L357.7,188.3 L357.8,188.3 L357.9,188.3 L358.0,188.2 L358.1,188.2 L358.2,188.2 L358.3,188.2 L358.4,188.2 L358.5,188.2 L358.5,188.2 L358.6,188.2 L358.7,188.2 L358.8,188.2 L358.9,188.2 L359.0,188.2 L359.1,188.2 L359.2,188.2 L359.3,188.2 L359.4,188.2 L359.5,188.1 L359.6,188.1 L359.7,188.1 L359.8,188.1 L359.9,188.1 L360.0,188.1 L360.1,188.1 L360.2,188.1 L360.3,188.1 L360.4,188.1 L360.5,188.1 L360.6,188.1 L360.7,188.1 L360.8,188.1 L360.9,188.1 L361.0,188.1 L361.1,188.1 L361.1,188.1 L361.2,188.1 L361.3,188.1 L361.4,188.1 L361.5,188.1 L361.6,188.1 L361.6,188.1 L361.7,188.1 L361.8,188.1 L361.9,188.1 L362.0,188.1 L362.1,188.1 L362.1,188.1 L362.2,188.2 L362.3,188.2 L362.4,188.2 L362.5,188.2 L362.6,188.2 L362.6,188.2 L362.7,188.2 L362.8,188.2 L362.9,188.2 L363.0,188.2 L363.0,188.2 L363.1,188.2 L363.2,188.2 L363.3,188.3 L363.4,188.3 L363.4,188.3 L363.5,188.3 L363.6,188.3 L363.7,188.3 L363.8,188.3 L363.8,188.3 L363.9,188.4 L364.0,188.4 L364.1,188.4 L364.1,188.4 L364.2,188.4 L364.3,188.4 L364.4,188.5 L364.5,188.5 L364.5,188.5 L364.6,188.5 L364.7,188.5 L364.8,188.6 L364.9,188.6 L364.9,188.6 L365.0,188.6 L365.1,188.6 L365.2,188.7 L365.2,188.7 L365.3,188.7 L365.4,188.7 L365.5,188.8 L365.6,188.8 L365.6,188.8 L365.7,188.9 L365.8,188.9 L365.9,188.9 L366.0,188.9 L366.0,189.0 L366.1,189.0 L366.2,189.0 L366.3,189.1 L366.4,189.1 L366.5,189.2 L366.5,189.2 L366.6,189.2 L366.7,189.3 L366.8,189.3 L366.9,189.4 L367.0,189.4 L367.0,189.4 L367.1,189.5 L367.2,189.5 L367.3,189.6 L367.4,189.6 L367.5,189.7 L367.6,189.7 L367.6,189.8 L367.7,189.8 L367.8,189.9 L367.9,189.9 L368.0,190.0 L368.1,190.0 L368.2,190.1 L368.3,190.2 L368.4,190.2 L368.5,190.3 L368.6,190.3 L368.7,190.4 L368.8,190.5 L368.8,190.5 L368.9,190.6 L369.0,190.7 L369.1,190.8 L369.2,190.8 L369.3,190.9 L369.4,191.0 L369.5,191.1 L369.6,191.1 L369.7,191.2 L369.8,191.3 L369.9,191.4 L370.0,191.5 L370.1,191.6 L370.2,191.7 L370.3,191.8 L370.4,191.9 L370.5,191.9 L370.6,192.0 L370.8,192.1 L370.9,192.3 L371.0,192.4 L371.1,192.5 L371.2,192.6 L371.3,192.7 L371.4,192.8 L371.5,192.9 L371.6,193.0 L371.7,193.2 L371.8,193.3 L371.9,193.4 L372.0,193.6 L372.1,193.7 L372.2,193.8 L372.3,194.0 L372.4,194.1 L372.5,194.3 L372.6,194.4 L372.7,194.6 L372.8,194.7 L372.9,194.9 L373.0,195.0 L373.1,195.2 L373.2,195.4 L373.3,195.6 L373.5,195.7 L373.6,195.9 L373.7,196.1 L373.8,196.3 L373.9,196.5 L374.0,196.7 L374.1,196.9 L374.2,197.1 L374.3,197.3 L374.4,197.6 L374.5,197.8 L374.6,198.0 L374.7,198.3 L374.8,198.5 L374.9,198.7 L375.0,199.0 L375.1,199.3 L375.3,199.5 L375.4,199.8 L375.5,200.1 L375.6,200.4 L375.7,200.7 L375.8,201.0 L375.9,201.3 L376.0,201.6 L376.1,201.9 L376.2,202.3 L376.4,202.6 L376.5,203.0 L376.7,203.4 L376.9,203.7 L377.2,204.1 L377.4,204.5 L377.6,204.9 L377.8,205.3 L378.0,205.8 L378.2,206.2 L378.3,206.7" fill="none" stroke="#ff0000" stroke-width="1.62" stroke-linejoin="round"/>
<path d="M53.5,209.5 L55.0,209.3 L56.4,209.1 L57.8,208.9 L59.3,208.7 L60.7,208.5 L62.1,208.3 L63.6,208.1 L65.0,207.9 L66.4,207.7 L67.9,207.5 L69.3,207.3 L70.8,207.1 L72.2,206.9 L73.6,206.7 L75.1,206.5 L76.5,206.4 L77.9,206.2 L79.4,206.0 L80.8,205.8 L82.2,205.6 L83.7,205.4 L85.1,205.2 L86.6,205.0 L88.0,204.9 L89.4,204.7 L90.9,204.5 L92.3,204.3 L93.7,204.2 L95.2,204.0 L96.6,203.8 L98.0,203.7 L99.5,203.5 L100.9,203.3 L102.3,203.2 L103.8,203.1 L105.2,202.9 L106.7,202.8 L108.1,202.7 L109.5,202.6 L111.0,202.5 L112.4,202.4 L113.8,202.3 L115.3,202.2 L116.7,202.1 L118.1,202.0 L119.6,201.9 L121.0,201.8 L122.5,201.7 L123.9,201.7 L125.3,201.6 L126.8,201.5 L128.2,201.4 L129.6,201.4 L131.1,201.3 L132.5,201.2 L133.9,201.1 L135.4,201.1 L136.8,201.0 L138.2,201.0 L139.7,200.9 L141.1,200.9 L142.6,200.8 L144.0,200.8 L145.4,200.8 L146.9,200.7 L148.3,200.7 L149.7,200.7 L151.2,200.7 L152.6,200.6 L154.0,200.6 L155.5,200.6 L156.9,200.6 L158.4,200.6 L159.8,200.7 L161.2,200.7 L162.7,200.7 L164.1,200.7 L165.5,200.7 L167.0,200.8 L168.4,200.8 L169.8,200.8 L171.3,200.9 L172.7,200.9 L174.1,201.0 L175.6,201.0 L177.0,201.1 L178.5,201.1 L179.9,201.2 L181.3,201.2 L182.8,201.3 L184.2,201.3 L185.6,201.4 L187.1,201.5 L188.5,201.5 L189.9,201.6 L191.4,201.6 L192.8,201.7 L194.3,201.7 L195.7,201.8 L197.1,201.9 L198.6,201.9 L200.0,202.0 L201.4,202.0 L202.9,202.1 L204.3,202.1 L205.7,202.2 L207.2,202.2 L208.6,202.3 L210.0,202.4 L211.5,202.4 L212.9,202.5 L214.4,202.6 L215.8,202.7 L217.2,202.7 L218.7,202.8 L220.1,202.9 L221.5,203.0 L223.0,203.0 L224.4,203.1 L225.8,203.2 L227.3,203.3 L228.7,203.3 L230.2,203.4 L231.6,203.5 L233.0,203.6 L234.5,203.7 L235.9,203.7 L237.3,203.8 L238.8,203.9 L240.2,204.0 L241.6,204.1 L243.1,204.2 L244.5,204.2 L245.9,204.3 L247.4,204.4 L248.8,204.5 L250.3,204.6 L251.7,204.7 L253.1,204.7 L254.6,204.8 L256.0,204.9 L257.4,205.0 L258.9,205.1 L260.3,205.1 L261.7,205.2 L263.2,205.3 L264.6,205.4 L266.1,205.4 L267.5,205.5 L268.9,205.6 L270.4,205.7 L271.8,205.7 L273.2,205.8 L274.7,205.9 L276.1,205.9 L277.5,206.0 L279.0,206.1 L280.4,206.1 L281.8,206.2 L283.3,206.2 L284.7,206.3 L286.2,206.3 L287.6,206.4 L289.0,206.4 L290.5,206.5 L291.9,206.5 L293.3,206.6 L294.8,206.6 L296.2,206.7 L297.6,206.7 L299.1,206.7 L300.5,206.8 L302.0,206.8 L303.4,206.8 L304.8,206.9 L306.3,206.9 L307.7,206.9 L309.1,206.9 L310.6,207.0 L312.0,207.0 L313.4,207.0 L314.9,207.0 L316.3,207.0 L317.7,207.0 L319.2,207.1 L320.6,207.1 L322.1,207.1 L323.5,207.1 L324.9,207.1 L326.4,207.1 L327.8,207.1 L329.2,207.1 L330.7,207.1 L332.1,207.1 L333.5,207.1 L335.0,207.1 L336.4,207.1 L337.9,207.1 L339.3,207.1 L339.4,207.1 L339.5,207.1 L339.6,207.1 L339.7,207.1 L339.8,207.1 L339.9,207.1 L340.0,207.1 L340.1,207.1 L340.2,207.1 L340.3,207.1 L340.4,207.1 L340.5,207.1 L340.6,207.1 L340.7,207.1 L340.8,207.1 L340.9,207.1 L341.0,207.1 L341.0,207.1 L341.1,207.1 L341.2,207.1 L341.3,207.1 L341.4,207.1 L341.5,207.1 L341.6,207.1 L341.7,207.1 L341.8,207.1 L341.9,207.1 L342.0,207.1 L342.1,207.1 L342.2,207.1 L342.3,207.1 L342.4,207.1 L342.5,207.1 L342.6,207.0 L342.7,207.0 L342.8,207.0 L342.9,207.0 L343.0,207.0 L343.1,207.0 L343.2,207.0 L343.3,207.0 L343.4,207.0 L343.5,207.0 L343.6,207.0 L343.7,207.0 L343.8,207.0 L343.9,207.0 L344.0,207.0 L344.1,207.0 L344.2,207.0 L344.3,207.0 L344.4,207.0 L344.5,207.0 L344.6,207.0 L344.7,207.0 L344.8,207.0 L344.9,207.0 L345.0,207.0 L345.1,207.0 L345.2,207.0 L345.3,207.0 L345.4,207.0 L345.4,207.0 L345.5,207.0 L345.6,207.0 L345.7,207.0 L345.8,207.0 L345.9,207.0 L346.0,207.0 L346.1,207.0 L346.2,207.0 L346.3,207.0 L346.4,207.0 L346.5,207.0 L346.6,207.0 L346.7,207.0 L346.8,207.0 L346.9,207.0 L347.0,207.0 L347.1,207.0 L347.2,207.0 L347.3,207.0 L347.4,207.0 L347.5,207.0 L347.6,207.0 L347.7,207.0 L347.8,207.0 L347.9,207.0 L348.0,207.0 L348.1,207.0 L348.2,207.0 L348.3,207.0 L348.4,207.0 L348.5,207.0 L348.6,207.0 L348.7,207.0 L348.8,207.0 L348.9,207.0 L349.0,207.0 L349.1,207.0 L349.2,207.0 L349.3,207.0 L349.4,207.0 L349.5,207.0 L349.6,207.0 L349.7,207.0 L349.7,207.0 L349.8,207.0 L349.9,207.0 L350.0,207.0 L350.1,207.0 L350.2,207.0 L350.3,207.0 L350.4,207.0 L350.5,207.0 L350.6,207.0 L350.7,207.0 L350.8,207.0 L350.9,207.0 L351.0,207.0 L351.1,207.0 L351.2,207.0 L351.3,207.0 L351.4,207.0 L351.5,207.0 L351.6,207.0 L351.7,207.0 L351.8,207.0 L351.9,207.0 L352.0,207.0 L352.1,207.0 L352.2,207.0 L352.3,207.0 L352.4,207.0 L352.5,207.0 L352.6,207.0 L352.7,207.0 L352.8,207.0 L352.9,207.0 L353.0,207.0 L353.1,207.0 L353.2,207.0 L353.3,207.0 L353.4,207.0 L353.5,207.0 L353.6,207.0 L353.7,207.0 L353.8,207.0 L353.9,207.0 L354.0,207.0 L354.1,207.0 L354.1,207.0 L354.2,207.0 L354.3,207.0 L354.4,206.9 L354.5,206.9 L354.6,206.9 L354.7,206.9 L354.8,206.9 L354.9,206.9 L355.0,206.9 L355.1,206.9 L355.2,206.9 L355.3,206.9 L355.4,206.9 L355.5,206.9 L355.6,206.9 L355.7,206.9 L355.8,206.9 L355.9,206.9 L356.0,206.9 L356.1,206.9 L356.2,206.9 L356.3,206.9 L356.4,206.9 L356.5,206.9 L356.6,206.9 L356.7,206.9 L356.8,206.9 L356.9,206.9 L357.0,206.9 L357.1,206.9 L357.2,206.9 L357.3,206.9 L357.4,206.9 L357.5,206.9 L357.6,206.9 L357.7,206.9 L357.8,206.9 L357.9,206.9 L358.0,206.9 L358.1,206.9 L358.2,206.9 L358.3,206.9 L358.4,206.9 L358.5,206.9 L358.5,206.9 L358.6,206.9 L358.7,206.9 L358.8,206.9 L358.9,206.9 L359.0,206.9 L359.1,206.9 L359.2,206.9 L359.3,206.9 L359.4,206.9 L359.5,206.9 L359.6,206.9 L359.7,206.9 L359.8,206.9 L359.9,206.9 L360.0,206.9 L360.1,206.9 L360.2,206.9 L360.3,206.9 L360.4,206.9 L360.5,206.9 L360.6,206.9 L360.7,206.9 L360.8,206.9 L360.9,206.9 L361.0,206.9 L361.1,206.9 L361.1,206.9 L361.2,206.9 L361.3,206.9 L361.4,206.9 L361.5,206.9 L361.6,206.9 L361.7,206.9 L361.8,206.9 L361.8,206.9 L361.9,206.9 L362.0,206.9 L362.1,206.9 L362.2,206.9 L362.3,206.9 L362.4,206.9 L362.5,206.9 L362.6,206.9 L362.6,206.9 L362.7,206.9 L362.8,206.9 L362.9,206.9 L363.0,206.9 L363.1,206.9 L363.2,206.9 L363.3,206.8 L363.4,206.8 L363.4,206.8 L363.5,206.8 L363.6,206.8 L363.7,206.8 L363.8,206.8 L363.9,206.8 L364.0,206.8 L364.1,206.8 L364.2,206.8 L364.3,206.8 L364.3,206.8 L364.4,206.8 L364.5,206.8 L364.6,206.8 L364.7,206.8 L364.8,206.8 L364.9,206.8 L365.0,206.8 L365.1,206.8 L365.2,206.8 L365.3,206.8 L365.4,206.8 L365.4,206.8 L365.5,206.8 L365.6,206.8 L365.7,206.8 L365.8,206.8 L365.9,206.8 L366.0,206.8 L366.1,206.8 L366.2,206.8 L366.3,206.8 L366.4,206.8 L366.5,206.8 L366.6,206.8 L366.7,206.8 L366.7,206.8 L366.8,206.8 L366.9,206.8 L367.0,206.8 L367.1,206.8 L367.2,206.8 L367.3,206.8 L367.4,206.8 L367.5,206.8 L367.6,206.8 L367.7,206.8 L367.8,206.8 L367.9,206.8 L368.0,206.8 L368.1,206.8 L368.2,206.8 L368.3,206.8 L368.4,206.8 L368.5,206.8 L368.6,206.8 L368.7,206.8 L368.8,206.8 L368.9,206.8 L369.0,206.8 L369.0,206.8 L369.1,206.8 L369.2,206.8 L369.3,206.8 L369.4,206.8 L369.5,206.8 L369.6,206.8 L369.7,206.8 L369.8,206.8 L369.9,206.8 L370.0,206.8 L370.1,206.8 L370.2,206.8 L370.3,206.8 L370.4,206.8 L370.5,206.8 L370.6,206.8 L370.7,206.8 L370.8,206.8 L370.9,206.8 L371.0,206.8 L371.1,206.8 L371.2,206.8 L371.3,206.8 L371.4,206.8 L371.5,206.8 L371.7,206.7 L371.8,206.7 L371.9,206.7 L372.0,206.7 L372.1,206.7 L372.2,206.7 L372.3,206.7 L372.4,206.7 L372.5,206.7 L372.6,206.7 L372.7,206.7 L372.8,206.7 L372.9,206.7 L373.0,206.7 L373.1,206.7 L373.2,206.7 L373.3,206.7 L373.4,206.7 L373.5,206.7 L373.6,206.7 L373.7,206.7 L373.8,206.7 L373.9,206.7 L374.0,206.7 L374.1,206.7 L374.2,206.7 L374.4,206.7 L374.5,206.7 L374.6,206.7 L374.7,206.7 L374.8,206.7 L374.9,206.7 L375.0,206.7 L375.1,206.7 L375.2,206.7 L375.3,206.7 L375.4,206.7 L375.5,206.7 L375.6,206.7 L375.7,206.7 L375.8,206.7 L375.9,206.7 L376.0,206.7 L376.2,206.7 L376.3,206.7 L376.4,206.7 L376.5,206.7 L376.6,206.7 L376.7,206.7 L376.8,206.7 L376.9,206.7 L377.0,206.7 L377.1,206.7 L377.2,206.7 L377.3,206.7 L377.4,206.7 L377.5,206.7 L377.7,206.7 L377.8,206.7 L377.9,206.7 L378.0,206.7 L378.1,206.7 L378.2,206.7 L378.3,206.7" fill="none" stroke="#800080" stroke-width="1.62" stroke-linejoin="round"/>
<path d="M58.7,23.8 H77.1" stroke="#0000ff" stroke-width="1.7"/>
<path d="M102.1,23.00 H111.8 M102.1,27.00 H111.8" stroke="#000" stroke-width="1.0"/>
<path d="M58.7,54.75 H77.1" stroke="#ff7f00" stroke-width="1.7"/>
<path d="M102.1,54.00 H111.8 M102.1,58.00 H111.8" stroke="#000" stroke-width="1.0"/>
<path d="M119.9,54.40 h20.2" stroke="#000" stroke-width="0.95"/>
<path d="M58.7,89.05 H77.1" stroke="#00ff00" stroke-width="1.7"/>
<path d="M102.1,88.50 H111.8 M102.1,92.50 H111.8" stroke="#000" stroke-width="1.0"/>
<path d="M119.9,88.70 h20.2" stroke="#000" stroke-width="0.95"/>
<path d="M58.7,123.75 H77.1" stroke="#ff0000" stroke-width="1.7"/>
<path d="M102.1,123.00 H111.8 M102.1,127.00 H111.8" stroke="#000" stroke-width="1.0"/>
<path d="M119.9,123.40 h20.2" stroke="#000" stroke-width="0.95"/>
<path d="M58.7,158.05 H77.1" stroke="#800080" stroke-width="1.7"/>
<path d="M102.1,157.50 H111.8 M102.1,161.50 H111.8" stroke="#000" stroke-width="1.0"/>
<path d="M119.9,158.00 h7.6" stroke="#000" stroke-width="0.95"/>
<path d="M203.0,29.50 H211.9 M203.0,32.50 H211.9" stroke="#000" stroke-width="0.9"/>
<path d="M191.3,52.90 q0.9,-0.9 1.8,-0.25 t1.8,-0.3" stroke="#333" stroke-width="0.75" fill="none"/>
<path d="M204.3,51.00 H213.0 M204.3,54.00 H213.0" stroke="#000" stroke-width="0.9"/>
<path d="M191.3,74.90 q0.9,-0.9 1.8,-0.25 t1.8,-0.3" stroke="#333" stroke-width="0.75" fill="none"/>
<path d="M204.3,73.80 H213.0 M204.3,77.00 H213.0" stroke="#000" stroke-width="0.9"/>
<path d="M192.1,96.50 H200.3 M192.1,99.50 H200.3" stroke="#000" stroke-width="0.9"/>
<path d="M46.4,0.09999999999999998 V209.95 M384.6,0.09999999999999998 V209.95" stroke="#000" stroke-width="0.95" fill="none"/><path d="M45.9,0.6 H385.1" stroke="#000" stroke-width="0.95" fill="none"/><path d="M45.9,209.45 H385.1" stroke="#000" stroke-width="0.98" fill="none"/>
<path d="M53.20,209.45 v-2.6 M53.20,0.6 v2.6 M69.46,209.45 v-1.5 M69.46,0.6 v1.5 M85.71,209.45 v-1.5 M85.71,0.6 v1.5 M101.97,209.45 v-1.5 M101.97,0.6 v1.5 M118.22,209.45 v-2.6 M118.22,0.6 v2.6 M134.48,209.45 v-1.5 M134.48,0.6 v1.5 M150.73,209.45 v-1.5 M150.73,0.6 v1.5 M166.99,209.45 v-1.5 M166.99,0.6 v1.5 M183.24,209.45 v-2.6 M183.24,0.6 v2.6 M199.50,209.45 v-1.5 M199.50,0.6 v1.5 M215.75,209.45 v-1.5 M215.75,0.6 v1.5 M232.01,209.45 v-1.5 M232.01,0.6 v1.5 M248.26,209.45 v-2.6 M248.26,0.6 v2.6 M264.52,209.45 v-1.5 M264.52,0.6 v1.5 M280.77,209.45 v-1.5 M280.77,0.6 v1.5 M297.03,209.45 v-1.5 M297.03,0.6 v1.5 M313.28,209.45 v-2.6 M313.28,0.6 v2.6 M329.54,209.45 v-1.5 M329.54,0.6 v1.5 M345.79,209.45 v-1.5 M345.79,0.6 v1.5 M362.05,209.45 v-1.5 M362.05,0.6 v1.5 M378.30,209.45 v-2.6 M378.30,0.6 v2.6 M46.4,209.30 h2.6 M384.6,209.30 h-2.6 M46.4,203.95 h1.5 M384.6,203.95 h-1.5 M46.4,198.60 h1.5 M384.6,198.60 h-1.5 M46.4,193.25 h1.5 M384.6,193.25 h-1.5 M46.4,187.90 h1.5 M384.6,187.90 h-1.5 M46.4,182.55 h2.6 M384.6,182.55 h-2.6 M46.4,177.20 h1.5 M384.6,177.20 h-1.5 M46.4,171.85 h1.5 M384.6,171.85 h-1.5 M46.4,166.50 h1.5 M384.6,166.50 h-1.5 M46.4,161.15 h1.5 M384.6,161.15 h-1.5 M46.4,155.80 h2.6 M384.6,155.80 h-2.6 M46.4,150.45 h1.5 M384.6,150.45 h-1.5 M46.4,145.10 h1.5 M384.6,145.10 h-1.5 M46.4,139.75 h1.5 M384.6,139.75 h-1.5 M46.4,134.40 h1.5 M384.6,134.40 h-1.5 M46.4,129.05 h2.6 M384.6,129.05 h-2.6 M46.4,123.70 h1.5 M384.6,123.70 h-1.5 M46.4,118.35 h1.5 M384.6,118.35 h-1.5 M46.4,113.00 h1.5 M384.6,113.00 h-1.5 M46.4,107.65 h1.5 M384.6,107.65 h-1.5 M46.4,102.30 h2.6 M384.6,102.30 h-2.6 M46.4,96.95 h1.5 M384.6,96.95 h-1.5 M46.4,91.60 h1.5 M384.6,91.60 h-1.5 M46.4,86.25 h1.5 M384.6,86.25 h-1.5 M46.4,80.90 h1.5 M384.6,80.90 h-1.5 M46.4,75.55 h2.6 M384.6,75.55 h-2.6 M46.4,70.20 h1.5 M384.6,70.20 h-1.5 M46.4,64.85 h1.5 M384.6,64.85 h-1.5 M46.4,59.50 h1.5 M384.6,59.50 h-1.5 M46.4,54.15 h1.5 M384.6,54.15 h-1.5 M46.4,48.80 h2.6 M384.6,48.80 h-2.6 M46.4,43.45 h1.5 M384.6,43.45 h-1.5 M46.4,38.10 h1.5 M384.6,38.10 h-1.5 M46.4,32.75 h1.5 M384.6,32.75 h-1.5 M46.4,27.40 h1.5 M384.6,27.40 h-1.5 M46.4,22.05 h2.6 M384.6,22.05 h-2.6 M46.4,16.70 h1.5 M384.6,16.70 h-1.5 M46.4,11.35 h1.5 M384.6,11.35 h-1.5 M46.4,6.00 h1.5 M384.6,6.00 h-1.5 M46.4,0.65 h1.5 M384.6,0.65 h-1.5" stroke="#000" stroke-width="0.8" fill="none"/>
<text x="22.96" y="214.9" class="s">0.0</text>
<text x="22.96" y="188.2" class="s">0.5</text>
<text x="23.76" y="161.4" class="s">1</text>
<path d="M24.36,158.90 h3.42 v3 h-3.42 Z M29.26,158.90 h3.2 v3 h-3.2 Z" fill="#fff"/>
<text x="31.86" y="161.4" class="s">.0</text>
<text x="23.76" y="134.7" class="s">1</text>
<path d="M24.36,132.15 h3.42 v3 h-3.42 Z M29.26,132.15 h3.2 v3 h-3.2 Z" fill="#fff"/>
<text x="31.86" y="134.7" class="s">.5</text>
<text x="22.96" y="107.9" class="s">2.0</text>
<text x="22.96" y="81.2" class="s">2.5</text>
<text x="22.96" y="54.4" class="s">3.0</text>
<text x="22.96" y="27.7" class="s">3.5</text>
<text x="42.08" y="225.0" class="s">0.0</text>
<text x="107.10" y="225.0" class="s">0.2</text>
<text x="172.12" y="225.0" class="s">0.4</text>
<text x="237.14" y="225.0" class="s">0.6</text>
<text x="302.16" y="225.0" class="s">0.8</text>
<text x="367.98" y="225.0" class="s">1</text>
<path d="M368.58,222.50 h3.42 v3 h-3.42 Z M373.48,222.50 h3.2 v3 h-3.2 Z" fill="#fff"/>
<text x="376.08" y="225.0" class="s">.0</text>
<text x="215.5" y="247.7" text-anchor="middle" class="r" font-size="17">x</text>
<g transform="translate(16.1,135.4) rotate(-90)"><text class="r" font-size="17" x="0" y="0">x</text><text class="r" font-size="10.2" x="8.3" y="-5.4">2</text><text class="r" font-size="17" x="17.3" y="0">dN</text><path d="M39.2,2.9 L44.6,-12" stroke="#000" stroke-width="1.05"/><text class="r" font-size="17" x="45.3" y="0">dx</text></g>
<text transform="translate(85.8,29.7) scale(1.08,1)" class="ri" font-size="18.2">α</text>
<text x="117.3" y="29.7" class="r" font-size="17.8">0</text>
<text transform="translate(85.8,60.6) scale(1.08,1)" class="ri" font-size="18.2">α</text>
<text x="128.6" y="53.4" text-anchor="middle" class="ri" font-size="12.3">π</text>
<text x="129.3" y="66.9" text-anchor="middle" class="r" font-size="12.5">200</text>
<text transform="translate(85.8,95.0) scale(1.08,1)" class="ri" font-size="18.2">α</text>
<text x="128.6" y="87.7" text-anchor="middle" class="ri" font-size="12.3">π</text>
<text x="129.3" y="101.2" text-anchor="middle" class="r" font-size="12.5">150</text>
<text transform="translate(85.8,129.7) scale(1.08,1)" class="ri" font-size="18.2">α</text>
<text x="128.6" y="122.4" text-anchor="middle" class="ri" font-size="12.3">π</text>
<text x="129.3" y="135.9" text-anchor="middle" class="r" font-size="12.5">100</text>
<text transform="translate(85.8,164.0) scale(1.08,1)" class="ri" font-size="18.2">α</text>
<text x="123.4" y="157.0" text-anchor="middle" class="ri" font-size="12.3">π</text>
<text x="123.2" y="170.5" text-anchor="middle" class="r" font-size="12.5">4</text>
<text x="178.0" y="34.6" class="ri" font-size="15.3" text-anchor="start">m</text>
<text transform="translate(189.1,37.3) scale(1.22,1)" class="ri" font-size="11">X</text>
<text x="217.1" y="34.6" class="r" font-size="15.0" text-anchor="start">100</text>
<text x="244.5" y="34.6" class="r" font-size="15.0" text-anchor="start">GeV</text>
<text x="178.0" y="56.6" class="ri" font-size="15.3" text-anchor="start">m</text>
<text transform="translate(189.4,59.3) scale(1.2,1)" class="ri" font-size="10.6">τ</text>
<text x="195.3" y="61.0" class="r" font-size="7.6" text-anchor="start">1</text>
<text x="217.9" y="56.6" class="r" font-size="15.0" text-anchor="start">102.5</text>
<text x="257.4" y="56.6" class="r" font-size="15.0" text-anchor="start">GeV</text>
<text x="178.0" y="78.6" class="ri" font-size="15.3" text-anchor="start">m</text>
<text transform="translate(189.4,81.3) scale(1.2,1)" class="ri" font-size="10.6">τ</text>
<text x="194.7" y="83.0" class="r" font-size="7.6" text-anchor="start">2</text>
<text x="217.5" y="78.6" class="r" font-size="15.0" text-anchor="start">450</text>
<text x="245.5" y="78.6" class="r" font-size="15.0" text-anchor="start">GeV</text>
<text x="177.4" y="102.1" class="ri" font-size="17" text-anchor="start">φ</text>
<text x="204.9" y="101.6" class="r" font-size="15.0" text-anchor="start">0</text>
</svg>
</body></html>
